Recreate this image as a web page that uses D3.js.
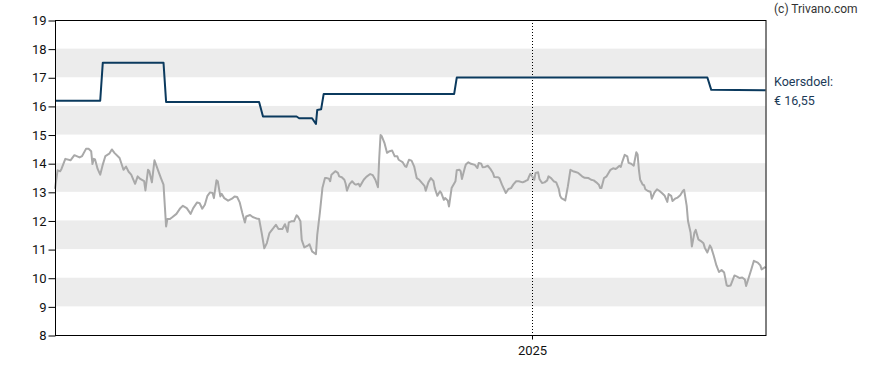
<!DOCTYPE html>
<html>
<head>
<meta charset="utf-8">
<script src="https://cdn.jsdelivr.net/npm/d3@7"></script>
<style>
  html, body { margin: 0; padding: 0; background: #fff; }
  svg { display: block; font-family: Roboto, "Liberation Sans", Arial, sans-serif; }
</style>
</head>
<body>
<svg id="chart" width="888" height="370"></svg>
<script>
// ---- data ----
const startDate = new Date(2023, 11, 29);
const endDate = new Date(2025, 6, 1);
const yTicks = [8, 9, 10, 11, 12, 13, 14, 15, 16, 17, 18, 19];
const bandLows = [9, 11, 13, 15, 17];
const xTickDates = [new Date(2025, 0, 1)];
const targetLabel = ["Koersdoel:", "€ 16,55"];
const copyright = "(c) Trivano.com";

// days since startDate
const priceDays = [0,2,4,5,8,12,15,19,21,24,26,28,29,30,31,33,35,37,39,42,44,46,50,53,55,57,59,62,64,66,69,70,72,73,75,77,80,82,84,86,87,89,
  91,94,97,99,102,105,107,110,112,114,116,118,120,122,123,125,126,128,129,131,134,137,139,141,143,145,147,148,151,153,156,158,160,162,164,166,169,171,173,176,178,180,181,
  183,185,187,188,190,191,193,196,197,199,202,203,205,207,209,210,212,213,214,217,219,220,222,224,225,226,228,230,232,233,235,236,239,241,244,246,248,250,251,252,253,255,257,259,261,263,265,266,269,271,272,274,276,
  278,280,282,284,286,287,289,291,293,294,296,298,299,301,302,304,305,307,308,310,311,313,314,315,317,318,320,322,325,327,328,330,331,333,335,337,339,340,343,344,346,349,351,353,355,357,359,362,364,366,367,368,
  370,371,372,374,375,377,379,381,382,384,386,388,390,391,392,395,397,399,401,403,405,408,410,413,415,417,419,421,422,423,425,427,430,432,434,435,437,438,439,441,443,444,446,448,449,450,451,452,453,455,
  456,457,459,461,462,464,466,468,470,472,474,475,477,478,480,482,484,486,487,489,490,492,493,495,496,498,500,502,503,505,507,508,510,512,514,516,518,520,521,523,526,528,530,532,534,535,537,539,541,544,546,547,550];
const priceValues = [13.1,13.75,13.72,13.8,14.15,14.1,14.28,14.2,14.25,14.5,14.5,14.42,13.97,14.15,14.13,13.8,13.6,13.95,14.25,14.33,14.48,14.36,14.18,13.77,13.88,13.7,13.6,13.28,13.54,13.45,13.37,13.05,13.77,13.72,13.33,14.1,13.72,13.48,13.25,11.79,12.05,12.05,
  12.12,12.23,12.43,12.51,12.43,12.23,12.43,12.63,12.6,12.41,12.55,12.86,12.98,12.96,12.78,13.4,13.37,12.84,12.93,12.78,12.69,12.76,12.84,12.82,12.63,12.26,11.93,12.14,12.19,12.12,12.07,12.05,11.56,11.03,11.21,11.56,11.73,11.85,11.7,11.7,11.87,11.6,11.93,
  11.97,11.97,12.18,12.14,11.97,11.32,11.06,11.13,11.17,10.92,10.82,11.5,12.26,13.13,13.48,13.48,13.46,13.37,13.6,13.72,13.66,13.54,13.51,13.42,13.28,13.04,13.27,13.37,13.27,13.25,13.28,13.19,13.42,13.52,13.62,13.58,13.42,13.16,14.18,14.98,14.94,14.71,14.36,14.42,14.44,14.24,14.24,14.12,14.04,13.89,13.87,14.12,14.09,
  13.89,13.48,13.42,13.31,13.21,13.04,13.33,13.48,13.37,13.13,12.86,13.02,12.96,12.72,12.78,12.7,12.49,13.13,13.21,13.37,13.75,13.77,13.72,13.45,13.8,13.95,14.03,13.98,13.94,13.83,14.01,13.98,13.86,13.87,13.91,13.8,13.66,13.52,13.51,13.48,13.25,12.96,13.1,13.13,13.27,13.37,13.37,13.33,13.37,13.42,13.54,13.63,
  13.5,13.42,13.66,13.68,13.45,13.31,13.33,13.4,13.54,13.48,13.37,13.33,13.1,12.86,12.78,12.7,13.19,13.77,13.72,13.69,13.66,13.54,13.49,13.48,13.42,13.4,13.33,13.25,13.13,13.13,13.48,13.54,13.77,13.82,13.8,13.83,13.91,13.87,14.03,14.29,14.24,14.01,13.98,13.91,14.15,14.38,14.3,13.77,13.42,13.25,
  13.23,13.09,13.03,13.0,12.76,12.97,13.09,13.03,12.95,12.86,12.65,12.92,12.86,12.68,12.76,12.8,12.88,13.03,13.07,12.51,11.98,11.58,11.09,11.58,11.67,11.34,11.28,11.2,11.05,10.88,11.13,11.05,10.76,10.43,10.2,10.27,10.18,9.73,9.71,9.73,10.08,10.04,9.99,10.01,9.94,9.71,10.0,10.29,10.59,10.53,10.43,10.29,10.38];

const targetDays = [0,35,37,84,86,158,161,187,189,199,202,203,206,208,309,311,505,508,550];
const targetValues = [16.18,16.18,17.51,17.51,16.14,16.14,15.63,15.63,15.57,15.57,15.37,15.86,15.88,16.42,16.42,16.99,16.99,16.56,16.55];

// ---- chart ----
const svg = d3.select("#chart");
const mLeft = 55, mRight = 765.5, mTop = 20, mBottom = 335;

const x = d3.scaleTime().domain([startDate, endDate]).range([mLeft, mRight]);
const y = d3.scaleLinear().domain([8, 19]).range([mBottom, mTop]);
const dayToDate = d => d3.timeDay.offset(startDate, d);

// bands
svg.append("g").selectAll("rect").data(bandLows).join("rect")
  .attr("x", mLeft).attr("width", mRight - mLeft)
  .attr("y", d => y(d + 1)).attr("height", d => y(d) - y(d + 1))
  .attr("fill", "#ececec");

// 2025 dotted line
svg.append("g").selectAll("line").data(xTickDates).join("line")
  .attr("x1", d => Math.round(x(d)) + 0.5).attr("x2", d => Math.round(x(d)) + 0.5)
  .attr("y1", mTop).attr("y2", mBottom)
  .attr("stroke", "#000").attr("stroke-width", 1).attr("stroke-dasharray", "1,2");

// price line
const price = priceDays.map((d, i) => ({ date: dayToDate(d), v: priceValues[i] }));
svg.append("path").datum(price)
  .attr("fill", "none").attr("stroke", "#a9a9a9").attr("stroke-width", 2)
  .attr("stroke-linejoin", "round")
  .attr("d", d3.line().x(d => x(d.date)).y(d => y(d.v)));

// target line
const target = targetDays.map((d, i) => ({ date: dayToDate(d), v: targetValues[i] }));
svg.append("path").datum(target)
  .attr("fill", "none").attr("stroke", "#0b3a5e").attr("stroke-width", 2)
  .attr("stroke-linejoin", "round")
  .attr("d", d3.line().x(d => x(d.date)).y(d => y(d.v)));

// frame
svg.append("rect")
  .attr("x", mLeft + 0.5).attr("y", mTop + 0.5)
  .attr("width", mRight - mLeft).attr("height", mBottom - mTop)
  .attr("fill", "none").attr("stroke", "#000").attr("stroke-width", 1);

// y axis
const yAxis = svg.append("g").attr("transform", `translate(${mLeft + 0.5},0.5)`)
  .call(d3.axisLeft(y).tickValues(yTicks).tickSize(7).tickPadding(2).tickFormat(d3.format("d")));
yAxis.select(".domain").remove();
yAxis.selectAll("text").attr("font-size", 13).attr("font-family", "Roboto, sans-serif").attr("fill", "#111");
yAxis.selectAll("line").attr("stroke", "#000");

// x axis
const xAxis = svg.append("g").attr("transform", `translate(0,${mBottom + 0.5})`)
  .call(d3.axisBottom(x).tickValues(xTickDates).tickSize(4).tickPadding(6).tickFormat(d3.timeFormat("%Y")));
xAxis.select(".domain").remove();
xAxis.selectAll(".tick").attr("transform", d => `translate(${Math.round(x(d)) + 0.5},0)`);
xAxis.selectAll("text").attr("font-size", 13).attr("font-family", "Roboto, sans-serif").attr("fill", "#111");
xAxis.selectAll("line").attr("stroke", "#000");

// labels
svg.append("text").attr("x", 774).attr("y", 12.5)
  .attr("font-size", 12).attr("fill", "#333").text(copyright);

svg.append("g").selectAll("text").data(targetLabel).join("text")
  .attr("x", 774).attr("y", (d, i) => 86 + i * 18.5)
  .attr("font-size", 12.5).attr("fill", "#1b3a57").text(d => d);
</script>
</body>
</html>
